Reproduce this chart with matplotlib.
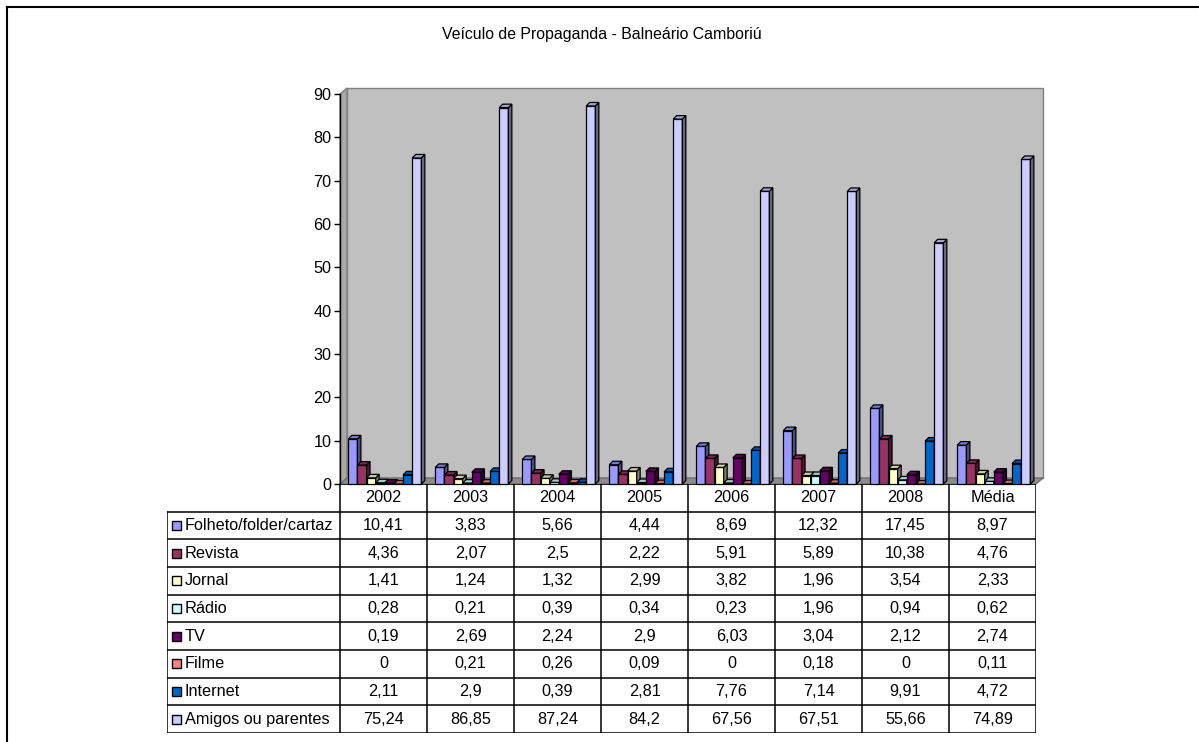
import matplotlib
matplotlib.use("Agg")
import matplotlib.pyplot as plt
from matplotlib.patches import Polygon, Rectangle
import numpy as np

plt.rcParams['font.family'] = ['Liberation Sans', 'DejaVu Sans']

title = "Veículo de Propaganda - Balneário Camboriú"
categories = ["2002", "2003", "2004", "2005", "2006", "2007", "2008", "Média"]
series_names = ["Folheto/folder/cartaz", "Revista", "Jornal", "Rádio", "TV",
                "Filme", "Internet", "Amigos ou parentes"]

folheto = [10.41, 3.83, 5.66, 4.44, 8.69, 12.32, 17.45, 8.97]
revista = [4.36, 2.07, 2.5, 2.22, 5.91, 5.89, 10.38, 4.76]
jornal = [1.41, 1.24, 1.32, 2.99, 3.82, 1.96, 3.54, 2.33]
radio = [0.28, 0.21, 0.39, 0.34, 0.23, 1.96, 0.94, 0.62]
tv = [0.19, 2.69, 2.24, 2.9, 6.03, 3.04, 2.12, 2.74]
filme = [0, 0.21, 0.26, 0.09, 0, 0.18, 0, 0.11]
internet = [2.11, 2.9, 0.39, 2.81, 7.76, 7.14, 9.91, 4.72]
amigos = [75.24, 86.85, 87.24, 84.2, 67.56, 67.51, 55.66, 74.89]

series = [folheto, revista, jornal, radio, tv, filme, internet, amigos]
colors = ["#9999FF", "#993366", "#FFFFCC", "#CCFFFF", "#660066",
          "#FF8080", "#0066CC", "#CCCCFF"]

FS = 11.7
W, H = 1199, 742
fig = plt.figure(figsize=(W / 100, H / 100), dpi=100)

# outer chart border (only top and left visible in the crop)
fig.add_artist(plt.Line2D([7 / W, 1], [1 - 7 / H, 1 - 7 / H], color="black", lw=1.5))
fig.add_artist(plt.Line2D([7 / W, 7 / W], [0, 1 - 7 / H], color="black", lw=1.5))

fig.text(602 / W, 1 - 34 / H, title, ha="center", va="center", fontsize=11.4)

# plot area
ax_l, ax_r, ax_t, ax_b = 340, 1036, 94, 484
ax = fig.add_axes([ax_l / W, 1 - ax_b / H, (ax_r - ax_l) / W, (ax_b - ax_t) / H])
ax.set_xlim(0, len(categories))
ax.set_ylim(0, 90)
ax.set_yticks(np.arange(0, 91, 10))
ax.tick_params(axis="y", length=4, width=1, labelsize=FS, pad=2)
ax.set_xticks([])
for s in ["top", "right", "bottom"]:
    ax.spines[s].set_visible(False)
ax.spines["left"].set_linewidth(1)
ax.spines["left"].set_zorder(10)
ax.patch.set_visible(False)

# walls (depth in axes fraction)
px_x = 1 / (ax_r - ax_l)
px_y = 1 / (ax_b - ax_t)
dxw, dyw = 7 * px_x, 6 * px_y
back = Polygon([(dxw, dyw), (1 + dxw, dyw), (1 + dxw, 1 + dyw), (dxw, 1 + dyw)],
               closed=True, transform=ax.transAxes, facecolor="#C0C0C0",
               edgecolor="#808080", lw=1, clip_on=False, zorder=0)
side = Polygon([(0, 0), (dxw, dyw), (dxw, 1 + dyw), (0, 1)], closed=True,
               transform=ax.transAxes, facecolor="#A8A8A8", edgecolor="#808080",
               lw=1, clip_on=False, zorder=0)
floor = Polygon([(0, 0), (1, 0), (1 + dxw, dyw), (dxw, dyw)], closed=True,
                transform=ax.transAxes, facecolor="#8C8C8C", edgecolor="#707070",
                lw=1, clip_on=False, zorder=0.5)
for p in (back, side, floor):
    ax.add_patch(p)

# 3D-ish bars
bar_w = 0.105
start = 0.095
ddx = 3.5 / (ax_r - ax_l) * len(categories)
ddy = 3.5 / (ax_b - ax_t) * 90


def shade(c, f):
    rgb = np.array(matplotlib.colors.to_rgb(c))
    return tuple(rgb * f)


z = 2
for i in range(len(categories)):
    for j, vals in enumerate(series):
        x0 = i + start + j * bar_w
        h = vals[i]
        c = colors[j]
        ax.bar(x0, h, width=bar_w, align="edge", color=c, edgecolor="black",
               lw=0.9, zorder=z, clip_on=False)
        sp = Polygon([(x0 + bar_w, 0), (x0 + bar_w + ddx, ddy),
                      (x0 + bar_w + ddx, h + ddy), (x0 + bar_w, h)], closed=True,
                     facecolor=shade(c, 0.5), edgecolor="black", lw=0.9,
                     zorder=z, clip_on=False)
        tp = Polygon([(x0, h), (x0 + ddx, h + ddy), (x0 + bar_w + ddx, h + ddy),
                      (x0 + bar_w, h)], closed=True, facecolor=shade(c, 0.8),
                     edgecolor="black", lw=0.9, zorder=z, clip_on=False)
        ax.add_patch(sp)
        ax.add_patch(tp)
        z += 0.01

# data table
tb_l, tb_b = 167, 733
lw_units = (ax_l - tb_l) / ((ax_r - ax_l) / len(categories))
tab = fig.add_axes([tb_l / W, 1 - tb_b / H, (ax_r - tb_l) / W, (tb_b - ax_b) / H])
tab.set_xlim(-lw_units, len(categories))
n_rows = len(series) + 1
tab.set_ylim(n_rows, 0)
tab.axis("off")

lk = dict(color="black", lw=1.1, solid_capstyle="projecting")
tab.plot([0, len(categories)], [0, 0], **lk)
for k in range(len(categories) + 1):
    tab.plot([k, k], [0, n_rows], **lk)
tab.plot([-lw_units, -lw_units], [1, n_rows], **lk)
for r in range(1, n_rows + 1):
    tab.plot([-lw_units, len(categories)], [r, r], **lk)

for i, cat in enumerate(categories):
    tab.text(i + 0.5, 0.5, cat, ha="center", va="center", fontsize=FS)

ux = 1 / ((ax_r - ax_l) / len(categories))
uy = n_rows / (tb_b - ax_b)
for j, (name, vals) in enumerate(zip(series_names, series)):
    r = j + 1
    tab.add_patch(Rectangle((-lw_units + 5 * ux, r + 0.5 - 4.5 * uy), 9 * ux, 9 * uy,
                            facecolor=colors[j], edgecolor="black", lw=1.0))
    tab.text(-lw_units + 18 * ux, r + 0.5, name, ha="left", va="center", fontsize=FS)
    for i, v in enumerate(vals):
        tab.text(i + 0.5, r + 0.5, f"{v:g}".replace(".", ","), ha="center",
                 va="center", fontsize=FS)

fig.savefig("out.png", dpi=100)
